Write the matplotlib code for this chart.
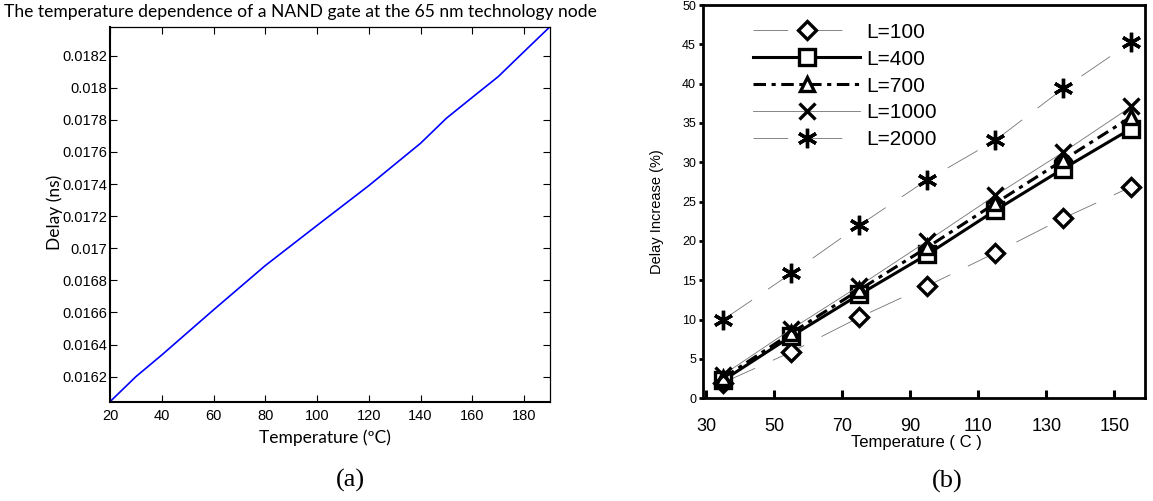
import matplotlib
matplotlib.use("Agg")
from matplotlib import pyplot as plt

# panel (a): NAND gate delay vs temperature
temp_a = [20, 30, 40, 60, 80, 100, 120, 140, 150, 160, 170, 180, 190]
delay_a = [0.016044, 0.01620, 0.016335, 0.016616, 0.016892, 0.017142, 0.01739,
           0.017654, 0.01781, 0.01794, 0.018069, 0.018225, 0.01838]
yticks_a = [0.0162, 0.0164, 0.0166, 0.0168, 0.017, 0.0172, 0.0174, 0.0176, 0.0178, 0.018, 0.0182]
ytick_labels_a = ["0.0162", "0.0164", "0.0166", "0.0168", "0.017", "0.0172",
                  "0.0174", "0.0176", "0.0178", "0.018", "0.0182"]
xticks_a = [20, 40, 60, 80, 100, 120, 140, 160, 180]

# panel (b): delay increase for several wire lengths
temp_b = [35, 55, 75, 95, 115, 135, 155]
labels_b = ["L=100", "L=400", "L=700", "L=1000", "L=2000"]
inc_100 = [2.0, 5.9, 10.3, 14.3, 18.5, 22.9, 26.9]
inc_400 = [2.3, 7.9, 13.2, 18.3, 23.9, 29.2, 34.3]
inc_700 = [2.6, 8.3, 13.8, 19.2, 24.8, 30.3, 35.8]
inc_1000 = [3.0, 8.8, 14.3, 20.0, 25.8, 31.3, 37.1]
inc_2000 = [10.0, 15.9, 22.0, 27.8, 32.8, 39.4, 45.3]
xticks_b = [30, 50, 70, 90, 110, 130, 150]
yticks_b = [0, 5, 10, 15, 20, 25, 30, 35, 40, 45, 50]

plt.rcParams["lines.scale_dashes"] = False
narrow = ["Liberation Sans Narrow", "Liberation Sans"]
helv = ["Liberation Sans", "DejaVu Sans"]
calibri = ["Lato", "DejaVu Sans"]

fig = plt.figure(figsize=(11.53, 5.01), dpi=100)

# ---- (a)
ax1 = fig.add_axes([0.0954, 0.1982, 0.3816, 0.7485])
ax1.plot(temp_a, delay_a, color="#0000ff", lw=1.2)
ax1.set_xlim(20, 190)
ax1.set_ylim(0.016044, 0.01838)
ax1.set_xticks(xticks_a)
ax1.set_yticks(yticks_a)
ax1.set_yticklabels(ytick_labels_a)
ax1.tick_params(direction="in", top=True, right=True, length=5, width=0.8,
                labelsize=10.5)
ax1.tick_params(axis="x", pad=5)
ax1.tick_params(axis="y", pad=2)
for lab in ax1.get_xticklabels() + ax1.get_yticklabels():
    lab.set_family(narrow)
for side in ["left", "bottom"]:
    ax1.spines[side].set_linewidth(1.5)
for side in ["top", "right"]:
    ax1.spines[side].set_linewidth(0.9)
ax1.set_xlabel("Temperature (ºC)", family=calibri, fontsize=12.5)
ax1.xaxis.set_label_coords(0.489, -0.073)
ax1.set_ylabel("Delay (ns)", family=calibri, fontsize=12.5)
ax1.yaxis.set_label_coords(-0.107, 0.506)
fig.text(300 / 1153, 1 - 12 / 501, "The temperature dependence of a NAND gate at the 65 nm technology node",
         family=calibri, fontsize=12.6, ha="center", va="center")
fig.text(350 / 1153, 1 - 480 / 501, "(a)", family="Liberation Serif", fontsize=19,
         ha="center", va="center")

# ---- (b)
ax2 = fig.add_axes([0.6097, 0.205, 0.3834, 0.785])
thin = dict(color="0.45", lw=0.6)
mk = dict(markersize=11, markeredgewidth=2.4, markeredgecolor="black")
ax2.plot(temp_b, inc_100, ls=(0, (25, 14)), marker="D", markerfacecolor="white",
         label=labels_b[0], **thin, **dict(mk, markersize=9))
ax2.plot(temp_b, inc_400, color="black", lw=2.2, marker="s", markerfacecolor="white",
         label=labels_b[1], **dict(mk, markersize=12))
ax2.plot(temp_b, inc_700, color="black", lw=2.2, ls=(0, (9, 4, 3, 4)), marker="^",
         markerfacecolor="white", label=labels_b[2], **dict(mk, markersize=10))
ax2.plot(temp_b, inc_1000, marker="x", label=labels_b[3], **thin, **mk)
ax2.plot(temp_b, inc_2000, ls=(0, (25, 14)), marker=(6, 2, 0), label=labels_b[4],
         **thin, **dict(mk, markersize=14))
ax2.set_xlim(29, 159)
ax2.set_ylim(0, 50)
ax2.set_xticks(xticks_b)
ax2.set_yticks(yticks_b)
ax2.tick_params(axis="x", direction="in", length=6, width=2.2, labelsize=13, pad=14)
ax2.tick_params(axis="y", direction="out", length=3, width=2.0, labelsize=9, pad=2)
for lab in ax2.get_xticklabels() + ax2.get_yticklabels():
    lab.set_family(helv)
for side in ax2.spines:
    ax2.spines[side].set_linewidth(2.0)
ax2.set_xlabel("Temperature ( C )", family=helv, fontsize=12)
ax2.xaxis.set_label_coords(0.482, -0.093)
ax2.set_ylabel("Delay Increase (%)", family=helv, fontsize=10.5)
ax2.yaxis.set_label_coords(-0.088, 0.474)
ax2.legend(loc="upper left", bbox_to_anchor=(0.113, 0.955), frameon=False,
           numpoints=1, handlelength=5.15, handletextpad=0.3, labelspacing=0.38,
           prop={"family": helv, "size": 15}, borderaxespad=0, borderpad=0)
fig.text(947 / 1153, 1 - 481 / 501, "(b)", family="Liberation Serif", fontsize=19,
         ha="center", va="center")

fig.savefig("out.png", dpi=100)
